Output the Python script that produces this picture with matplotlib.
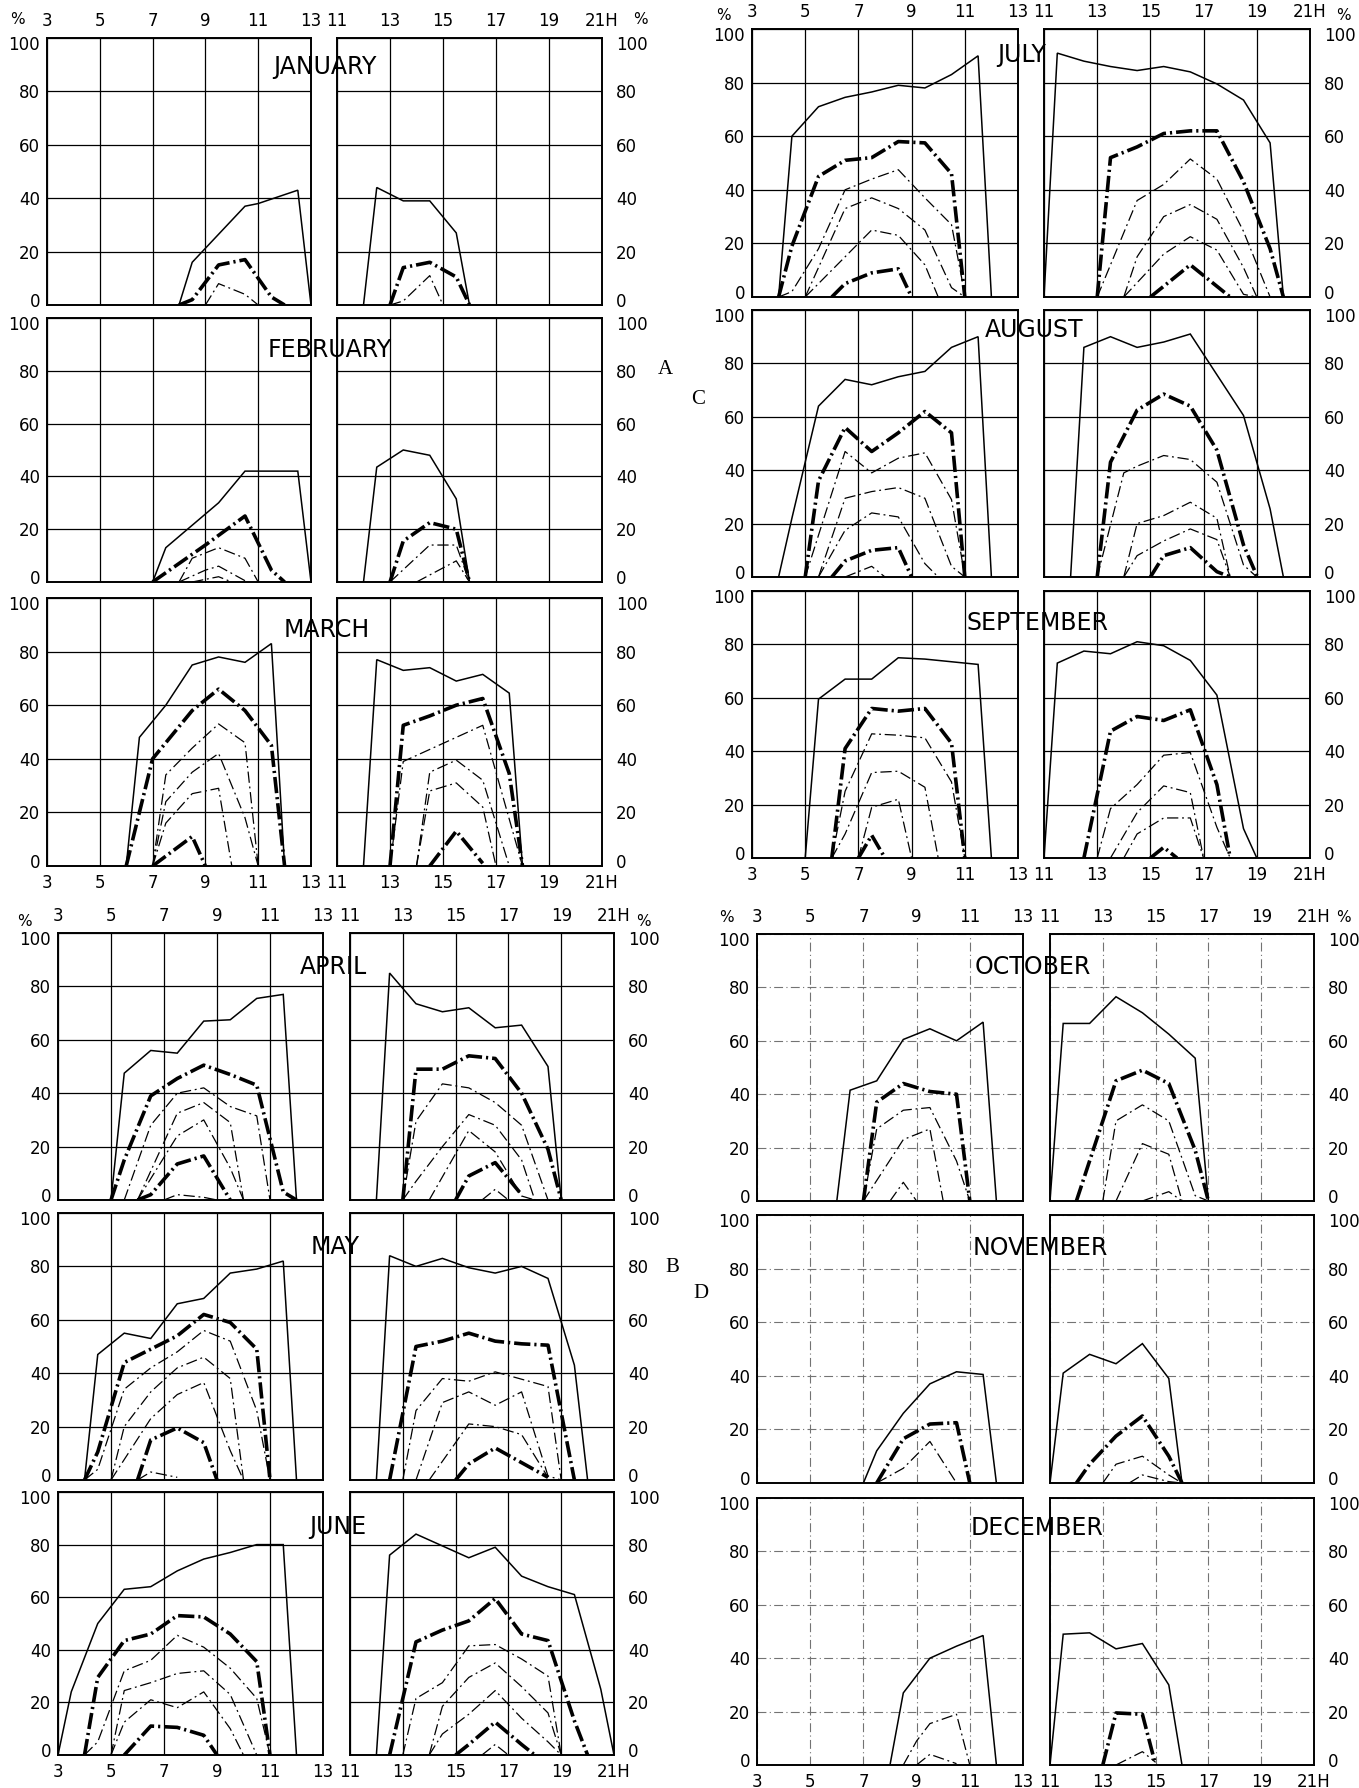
import matplotlib
matplotlib.use("Agg")
import matplotlib.pyplot as plt
import matplotlib.transforms as mtransforms

plt.rcParams['font.family'] = ['DejaVu Sans']

# ---------------- data (hour, percent) ----------------
JAN_AM = {"top": ([8, 8.5, 10.5, 11, 12.5, 13], [0, 16, 37, 38, 43, 0]),
          "heavy": ([8, 8.5, 9.5, 10.5, 11.5, 12], [0, 2, 15, 17, 3, 0]),
          "mid1": ([9, 9.5, 10.5, 11], [0, 8, 4, 0])}
JAN_PM = {"top": ([12, 12.5, 13.5, 14.5, 15.5, 16], [0, 44, 39, 39, 27, 0]),
          "heavy": ([13, 13.5, 14.5, 15.5, 16], [0, 14, 16, 10.5, 0]),
          "mid1": ([13, 13.5, 14.5, 15], [0, 1.5, 11, 0])}
FEB_AM = {"top": ([7, 7.5, 9.5, 10.5, 12.5, 13], [0, 13, 30, 42, 42, 0]),
          "heavy": ([7, 8, 9, 10.5, 11.5, 12], [0, 7, 14, 25, 4.5, 0]),
          "mid1": ([8, 8.5, 9.5, 10.5, 11], [0, 9, 13, 9, 0]),
          "mid2": ([8, 9, 9.5, 10.5], [0, 4.5, 6, 0.5]),
          "mid3": ([8.5, 9.5, 10], [0, 2, 0])}
FEB_PM = {"top": ([12, 12.5, 13.5, 14.5, 15.5, 16], [0, 43.5, 50, 48, 31.5, 0]),
          "heavy": ([13, 13.5, 14.5, 15.5, 16], [0, 15.5, 22.5, 20, 0]),
          "mid1": ([13, 14.5, 15.5, 16], [0, 14, 14, 0]),
          "mid2": ([14, 15.5, 16], [0, 8, 0])}
MAR_AM = {"top": ([6, 6.5, 7.5, 8.5, 9.5, 10.5, 11.5, 12], [0, 48, 60, 75, 78, 76, 83, 0]),
          "heavy": ([6, 7, 8.5, 9.5, 10.5, 11.5, 12], [0, 40, 58, 66, 58, 45, 0]),
          "mid1": ([7, 7.5, 8.5, 9.5, 10.5, 11], [0, 34, 44, 53, 46, 0]),
          "mid2": ([7, 7.5, 8.5, 9.5, 10.5, 11], [0, 24, 35, 42, 18, 0]),
          "mid3": ([7, 7.5, 8.5, 9.5, 10], [0, 16, 27, 29, 0]),
          "low": ([7, 8.5, 9], [0, 11, 0])}
MAR_PM = {"top": ([12, 12.5, 13.5, 14.5, 15.5, 16.5, 17.5, 18], [0, 77, 73, 74, 69, 71.5, 64.5, 0]),
          "heavy": ([13, 13.5, 14.5, 15.5, 16.5, 17.5, 18], [0, 52.5, 56, 60, 62.5, 34.5, 0]),
          "mid1": ([13, 13.5, 16.5, 18], [0, 39, 52.5, 0]),
          "mid2": ([14, 14.5, 15.5, 16.5, 17.5], [0, 35, 39.5, 32, 0]),
          "mid3": ([14, 14.5, 15.5, 16.5, 17], [0, 28, 31, 22, 0]),
          "low": ([14.5, 15.5, 16.5], [0, 13, 1])}
APR_AM = {"top": ([5, 5.5, 6.5, 7.5, 8.5, 9.5, 10.5, 11.5, 12], [0, 47.5, 56, 55, 67, 67.5, 75.5, 77, 0]),
          "heavy": ([5, 5.5, 6.5, 7.5, 8.5, 9.5, 10.5, 11.5, 12], [0, 15, 39, 45.5, 50.5, 47, 43, 3, 0]),
          "mid1": ([5.5, 6.5, 7.5, 8.5, 9.5, 10.5, 11], [0, 28, 40, 42, 35, 31.5, 0]),
          "mid2": ([6, 7.5, 8.5, 9.5, 10], [0, 32.5, 36.5, 29, 0]),
          "mid3": ([6, 7.5, 8.5, 9.5, 10], [0, 24, 30, 12, 0]),
          "low": ([6, 6.5, 7.5, 8.5, 9.5], [0, 2, 13.5, 16.5, 0]),
          "trace": ([7, 7.5, 8.5, 9], [0, 2, 1, 0])}
APR_PM = {"top": ([12, 12.5, 13.5, 14.5, 15.5, 16.5, 17.5, 18.5, 19], [0, 85, 73.5, 70.5, 72, 64.5, 65.5, 50, 0]),
          "heavy": ([13, 13.5, 14.5, 15.5, 16.5, 17.5, 18.5, 19], [0, 49, 49, 54, 53, 40, 19, 0]),
          "mid1": ([13, 13.5, 14.5, 15.5, 16.5, 17.5, 18.5], [0, 29.5, 43.5, 42, 36.5, 28, 0]),
          "mid2": ([13, 13.5, 14.5, 15.5, 16.5, 17.5, 18], [0, 7, 20, 32, 28, 15, 0]),
          "mid3": ([14, 15.5, 16.5, 17.5, 18], [0, 26, 18, 1.5, 0]),
          "low": ([15, 15.5, 16.5, 17.5], [0, 9, 14, 2]),
          "trace": ([16, 16.5, 17], [0, 4, 0])}
MAY_AM = {"top": ([4, 4.5, 5.5, 6.5, 7.5, 8.5, 9.5, 10.5, 11.5, 12], [0, 47, 55, 53, 66, 68, 77.5, 79, 82, 0]),
          "heavy": ([4, 4.5, 5.5, 6.5, 7.5, 8.5, 9.5, 10.5, 11], [0, 10.5, 44, 49, 54, 62, 59, 49, 0]),
          "mid1": ([4, 4.5, 5.5, 6.5, 7.5, 8.5, 9.5, 10.5, 11], [0, 4, 34, 42, 48, 56, 52, 26, 0]),
          "mid2": ([5, 5.5, 6.5, 7.5, 8.5, 9.5, 10], [0, 20, 33, 42, 46, 38, 0]),
          "mid3": ([5, 6.5, 7.5, 8.5, 9.5, 10], [0, 23, 32, 36.5, 11, 0]),
          "low": ([6, 6.5, 7.5, 8.5, 9], [0, 15, 19.5, 14, 0]),
          "trace": ([6, 6.5, 7.5], [0, 3, 1])}
MAY_PM = {"top": ([12, 12.5, 13.5, 14.5, 15.5, 16.5, 17.5, 18.5, 19.5, 20], [0, 84, 80, 83, 79.5, 77.5, 80, 75.5, 43, 0]),
          "heavy": ([12.5, 13.5, 14.5, 15.5, 16.5, 17.5, 18.5, 19.5], [0, 50, 52, 55, 52, 51, 50.5, 0]),
          "mid1": ([13, 13.5, 14.5, 15.5, 16.5, 18.5, 19], [0, 26, 38, 37, 40.5, 35, 0]),
          "mid2": ([13.5, 14.5, 15.5, 16.5, 17.5, 18.5, 19], [0, 29, 33, 28, 33, 1.5, 0]),
          "mid3": ([14, 15.5, 16.5, 17.5, 18.5], [0, 21, 20, 17, 1]),
          "low": ([15, 15.5, 16.5, 18.5], [0, 6, 12, 1])}
JUN_AM = {"top": ([3, 3.5, 4.5, 5.5, 6.5, 7.5, 8.5, 9.5, 10.5, 11.5, 12], [0, 24, 50, 63, 64, 70, 74.5, 77, 80, 80, 0]),
          "heavy": ([4, 4.5, 5.5, 6.5, 7.5, 8.5, 9.5, 10.5, 11], [0, 29.5, 43.5, 46, 53, 52.5, 46, 35.5, 0]),
          "mid1": ([4, 4.5, 5.5, 6.5, 7.5, 8.5, 9.5, 10.5, 11], [0, 5, 32, 36, 45.5, 41, 33, 21.5, 0]),
          "mid2": ([5, 5.5, 6.5, 7.5, 8.5, 9.5, 10.5], [0, 24.5, 27.5, 31, 32, 23, 0]),
          "mid3": ([5, 5.5, 6.5, 7.5, 8.5, 9.5, 10], [0, 12.5, 21, 18, 24, 10, 0]),
          "low": ([5.5, 6.5, 7.5, 8.5, 9], [0, 11, 10.5, 7.5, 0])}
JUN_PM = {"top": ([12, 12.5, 13.5, 14.5, 15.5, 16.5, 17.5, 18.5, 19.5, 20.5, 21], [0, 76, 84, 79.5, 75, 79, 68, 64, 61, 25, 0]),
          "heavy": ([12.5, 13.5, 14.5, 15.5, 16.5, 17.5, 18.5, 19.5, 20], [0, 43, 47.5, 51, 59.5, 46, 43.5, 13, 0]),
          "mid1": ([13, 13.5, 14.5, 15.5, 16.5, 17.5, 18.5, 19], [0, 21.5, 27.5, 41.5, 42, 36.5, 30, 0]),
          "mid2": ([14, 14.5, 15.5, 16.5, 17.5, 18.5, 19], [0, 18.5, 29.5, 35, 26, 16, 0]),
          "mid3": ([14, 14.5, 15.5, 16.5, 17.5, 18.5, 19], [0, 8, 15.5, 24.5, 14, 5, 0]),
          "low": ([15, 15.5, 16.5, 17.5, 18], [0, 4, 12.5, 4, 0]),
          "trace": ([16, 16.5, 17], [0, 4, 0])}
JUL_AM = {"top": ([4, 4.5, 5.5, 6.5, 7.5, 8.5, 9.5, 10.5, 11.5, 12], [0, 60, 71, 74.5, 76.5, 79, 78, 83, 90, 0]),
          "heavy": ([4, 4.5, 5.5, 6.5, 7.5, 8.5, 9.5, 10.5, 11], [0, 19, 45, 51, 52, 58, 57.5, 46, 0]),
          "mid1": ([4, 4.5, 5.5, 6.5, 7.5, 8.5, 9.5, 10.5, 11], [0, 2, 18, 40, 44, 47.5, 37, 27, 1]),
          "mid2": ([5, 6.5, 7.5, 8.5, 9.5, 10.5, 11], [0, 33, 37, 33, 25, 3.5, 0]),
          "mid3": ([5, 5.5, 6.5, 7.5, 8.5, 9.5, 10], [0, 5, 15, 25, 23, 12, 0]),
          "low": ([6, 6.5, 7.5, 8.5, 9], [0, 5, 9, 10.5, 0])}
JUL_PM = {"top": ([11, 11.5, 12.5, 13.5, 14.5, 15.5, 16.5, 17.5, 18.5, 19.5, 20], [0, 91, 88, 86, 84.5, 86, 84, 79.5, 73.5, 57.5, 0]),
          "heavy": ([13, 13.5, 14.5, 15.5, 16.5, 17.5, 18.5, 19.5, 20], [0, 52, 56, 61, 62, 62, 43, 18, 0]),
          "mid1": ([13, 14.5, 15.5, 16.5, 17.5, 18.5, 19.5], [0, 36, 42, 51.5, 44, 24.5, 0]),
          "mid2": ([14, 14.5, 15.5, 16.5, 17.5, 18.5, 19], [0, 15, 30, 34.5, 29, 11, 0]),
          "mid3": ([14, 15.5, 16.5, 17.5, 18.5, 19], [0, 16, 22.5, 17.5, 1, 0]),
          "low": ([15, 15.5, 16.5, 17.5, 18], [0, 4, 12, 4, 0])}
AUG_AM = {"top": ([4, 4.5, 5.5, 6.5, 7.5, 8.5, 9.5, 10.5, 11.5, 12], [0, 22, 64, 74, 72, 75, 77, 86, 90, 0]),
          "heavy": ([5, 5.5, 6.5, 7.5, 8.5, 9.5, 10.5, 11], [0, 36, 56, 47, 54, 62, 54, 0]),
          "mid1": ([5, 6.5, 7.5, 8.5, 9.5, 10.5, 11], [0, 47, 39, 44.5, 46.5, 29, 0.5]),
          "mid2": ([5.5, 6.5, 7.5, 8.5, 9.5, 10.5, 11], [0, 29.5, 32, 33.5, 29.5, 4, 0]),
          "mid3": ([5.5, 6.5, 7.5, 8.5, 9.5, 10], [0, 17.5, 24, 22.5, 5, 0]),
          "low": ([6, 6.5, 7.5, 8.5, 9], [0, 6, 10, 11, 0]),
          "trace": ([6.5, 7.5, 8], [0, 4, 0])}
AUG_PM = {"top": ([12, 12.5, 13.5, 14.5, 15.5, 16.5, 18.5, 19.5, 20], [0, 86, 90, 86, 88, 91, 60.5, 25.5, 0]),
          "heavy": ([13, 13.5, 14.5, 15.5, 16.5, 17.5, 18.5, 19], [0, 43, 62.5, 68.5, 64, 47.5, 12, 0.5]),
          "mid1": ([13, 14, 14.5, 15.5, 16.5, 17.5, 18.5, 19], [0, 39, 41.5, 45.5, 44, 35.5, 4.5, 0]),
          "mid2": ([14, 14.5, 15.5, 16.5, 17.5, 18], [0, 20, 23, 28, 22, 0]),
          "mid3": ([14, 14.5, 15.5, 16.5, 17.5, 18], [0, 8, 13.5, 18, 14, 0]),
          "low": ([15, 15.5, 16.5, 17.5, 18], [0, 8, 11, 2, 0])}
SEP_AM = {"top": ([5, 5.5, 6.5, 7.5, 8.5, 9.5, 10.5, 11.5, 12], [0, 59.5, 67, 67, 75, 74.5, 73.5, 72.5, 0]),
          "heavy": ([6, 6.5, 7.5, 8.5, 9.5, 10.5, 11], [0, 41, 56, 55, 56, 43, 0]),
          "mid1": ([6, 6.5, 7.5, 8.5, 9.5, 10.5, 11], [0, 25, 46.5, 46, 45, 28.5, 0]),
          "mid2": ([6, 6.5, 7.5, 8.5, 9.5, 10], [0, 9, 32, 32.5, 26.5, 0]),
          "mid3": ([7, 7.5, 8.5, 9], [0, 19, 22, 0]),
          "low": ([7, 7.5, 8], [0, 8.5, 0])}
SEP_PM = {"top": ([11, 11.5, 12.5, 13.5, 14.5, 15.5, 16.5, 17.5, 18.5, 19], [0, 73, 77.5, 76.5, 81, 79.5, 74, 61, 11, 0]),
          "heavy": ([12.5, 13.5, 14.5, 15.5, 16.5, 17.5, 18], [0, 47.5, 53, 51.5, 55.5, 27.5, 0]),
          "mid1": ([13, 13.5, 14.5, 15.5, 16.5, 17.5, 18], [0, 18.5, 27.5, 38.5, 39.5, 11.5, 0]),
          "mid2": ([13.5, 14.5, 15.5, 16.5, 17], [0, 17, 27, 24.5, 0]),
          "mid3": ([14, 14.5, 15.5, 16.5, 17], [0, 9, 15, 15, 0]),
          "low": ([15, 15.5, 16], [0, 4, 0])}
OCT_AM = {"top": ([6, 6.5, 7.5, 8.5, 9.5, 10.5, 11.5, 12], [0, 41.5, 45, 60.5, 64.5, 60, 67, 0]),
          "heavy": ([7, 7.5, 8.5, 9.5, 10.5, 11], [0, 37, 44, 41, 40, 0]),
          "mid1": ([7, 7.5, 8.5, 9.5, 10.5, 11], [0, 27, 34, 35, 15, 0]),
          "mid2": ([7, 8.5, 9.5, 10], [0, 23, 27, 0]),
          "mid3": ([8, 8.5, 9], [0, 7, 0])}
OCT_PM = {"top": ([11, 11.5, 12.5, 13.5, 14.5, 15.5, 16.5, 17], [0, 66.5, 66.5, 76.5, 70.5, 62.5, 53.5, 0]),
          "heavy": ([12, 13.5, 14.5, 15.5, 16.5, 17], [0, 45, 49, 44, 19, 0]),
          "mid1": ([13, 13.5, 14.5, 15.5, 16.5, 17], [0, 30, 36, 30, 2, 0]),
          "mid2": ([13.5, 14.5, 15.5, 16], [0, 21.5, 17.5, 0]),
          "mid3": ([14.5, 15.5, 16], [0, 3.5, 0])}
NOV_AM = {"top": ([7, 7.5, 8.5, 9.5, 10.5, 11.5, 12], [0, 12, 26, 37, 41.5, 40.5, 0]),
          "heavy": ([7.5, 8.5, 9.5, 10.5, 11], [0, 16.5, 22, 22.5, 0]),
          "mid1": ([7.5, 8.5, 9.5, 10.5], [0, 5.5, 15.5, 0])}
NOV_PM = {"top": ([11, 11.5, 12.5, 13.5, 14.5, 15.5, 16], [0, 41, 48, 44.5, 52, 39, 0]),
          "heavy": ([12, 12.5, 13.5, 14.5, 15.5, 16], [0, 7, 17.5, 25, 10, 0]),
          "mid1": ([13, 13.5, 14.5, 15.5, 16], [0, 7, 10, 3, 0]),
          "mid2": ([14, 14.5, 15.5, 16], [0, 3, 0.5, 0])}
DEC_AM = {"top": ([8, 8.5, 9.5, 10.5, 11.5, 12], [0, 27, 40, 44.5, 48.5, 0]),
          "mid1": ([8.5, 9, 9.5, 10.5, 11], [0, 9, 15.5, 19, 0]),
          "mid2": ([9, 9.5, 10.5], [0, 4, 0.5])}
DEC_PM = {"top": ([11, 11.5, 12.5, 13.5, 14.5, 15.5, 16], [0, 49, 49.5, 43.5, 45.5, 30, 0]),
          "heavy": ([13, 13.5, 14.5, 15], [0, 19.5, 19, 0]),
          "mid1": ([13.5, 14.5, 15], [0, 5, 1])}

MONTHS = ["JANUARY", "FEBRUARY", "MARCH", "APRIL", "MAY", "JUNE",
          "JULY", "AUGUST", "SEPTEMBER", "OCTOBER", "NOVEMBER", "DECEMBER"]
AM_DATA = [JAN_AM, FEB_AM, MAR_AM, APR_AM, MAY_AM, JUN_AM,
           JUL_AM, AUG_AM, SEP_AM, OCT_AM, NOV_AM, DEC_AM]
PM_DATA = [JAN_PM, FEB_PM, MAR_PM, APR_PM, MAY_PM, JUN_PM,
           JUL_PM, AUG_PM, SEP_PM, OCT_PM, NOV_PM, DEC_PM]
AM_TICKS = [3, 5, 7, 9, 11, 13]
AM_LABELS = ["3", "5", "7", "9", "11", "13"]
PM_TICKS = [11, 13, 15, 17, 19, 21]
PM_LABELS = ["11", "13", "15", "17", "19", "21H"]
Y_TICKS = [0, 20, 40, 60, 80, 100]
Y_LABELS = ["0", "20", "40", "60", "80", "100"]
BLOCK_LETTERS = ["A", "B", "C", "D"]

# ---------------- styles / layout ----------------
W, H = 1359, 1788
fig = plt.figure(figsize=(W / 100, H / 100), dpi=100)
fig.patch.set_facecolor("white")

def rect(x0, y0, x1, y1):
    return [x0 / W, 1 - y1 / H, (x1 - x0) / W, (y1 - y0) / H]

THIN_DD = (0, (9, 3, 1.5, 3))
HEAVY_DD = (0, (4.5, 1.1, 0.6, 1.1))
STYLE = {"top": dict(lw=1.1, ls="-"),
         "heavy": dict(lw=2.6, ls=HEAVY_DD),
         "mid1": dict(lw=0.9, ls=THIN_DD),
         "mid2": dict(lw=0.9, ls=THIN_DD),
         "mid3": dict(lw=0.9, ls=THIN_DD),
         "low": dict(lw=2.6, ls=HEAVY_DD),
         "trace": dict(lw=0.9, ls=THIN_DD)}

BLOCKS = [
    ((47, 311), (337, 602), [(38, 305), (318, 582), (598, 866)]),
    ((58, 323), (350, 614), [(933, 1200), (1213, 1480), (1492, 1755)]),
    ((752, 1018), (1044, 1310), [(29, 297), (310, 577), (591, 858)]),
    ((757, 1023), (1050, 1314), [(934, 1201), (1215, 1483), (1498, 1765)]),
]
TITLE_POS = [(325, 67), (330, 350), (327, 630), (333, 967), (335, 1247), (338, 1527),
             (1022, 55), (1034, 330), (1037, 623), (1033, 967), (1040, 1248), (1037, 1528)]
LETTER_POS = [(665, 370), (672, 1268), (698, 399), (701, 1294)]
PCT_POS = [((17, 20), (640, 20)), ((24, 922), (643, 922)),
           ((723, 15), (1343, 15)), ((726, 918), (1343, 918))]

FS = 12
UP = mtransforms.ScaledTranslation(0, 5 / 100, fig.dpi_scale_trans)
DOWN = mtransforms.ScaledTranslation(0, -5 / 100, fig.dpi_scale_trans)

def style_axes(ax, side, row, block):
    am = side == "am"
    ax.set_xlim(3, 13) if am else ax.set_xlim(11, 21)
    ax.set_ylim(0, 100)
    ax.set_xticks(AM_TICKS if am else PM_TICKS)
    ax.set_xticklabels(AM_LABELS if am else PM_LABELS)
    ax.set_yticks(Y_TICKS)
    ax.set_yticklabels(Y_LABELS)
    if block == 3:
        ax.grid(True, color="0.45", lw=0.8, ls=(0, (8, 3, 1, 3)))
    else:
        ax.grid(True, color="black", lw=0.9, ls="-")
    ax.set_axisbelow(True)
    for s in ax.spines.values():
        s.set_linewidth(1.4)
    ax.tick_params(length=0, labelsize=FS)
    if am:
        ax.tick_params(axis="y", left=False, labelleft=True, right=False, labelright=False, pad=5)
    else:
        ax.tick_params(axis="y", left=False, labelleft=False, right=False, labelright=True, pad=10)
    if row == 0:
        ax.tick_params(axis="x", labeltop=True, labelbottom=False, pad=6)
    elif row == 2:
        ax.tick_params(axis="x", labeltop=False, labelbottom=True, pad=6)
    else:
        ax.tick_params(axis="x", labeltop=False, labelbottom=False)
    for tick in ax.yaxis.get_major_ticks():
        for lbl in (tick.label1, tick.label2):
            if lbl.get_text() == "0":
                lbl.set_transform(lbl.get_transform() + UP)
            elif lbl.get_text() == "100":
                lbl.set_transform(lbl.get_transform() + DOWN)

for b, (lx, rx, rows) in enumerate(BLOCKS):
    for r, (y0, y1) in enumerate(rows):
        m = b * 3 + r
        for side, (x0, x1), data in (("am", lx, AM_DATA[m]), ("pm", rx, PM_DATA[m])):
            ax = fig.add_axes(rect(x0, y0, x1, y1))
            style_axes(ax, side, r, b)
            for key, (xs, ys) in data.items():
                ax.plot(xs, ys, color="black", solid_joinstyle="miter",
                        dash_capstyle="butt", **STYLE[key])
        tx, ty = TITLE_POS[m]
        fig.text(tx / W, 1 - ty / H, MONTHS[m], ha="center", va="center",
                 fontsize=17, zorder=10)
    lxp, lyp = LETTER_POS[b]
    fig.text(lxp / W, 1 - lyp / H, BLOCK_LETTERS[b], ha="center", va="center",
             fontsize=15, family=["Liberation Serif", "DejaVu Serif"])
    for (px, py) in PCT_POS[b]:
        fig.text(px / W, 1 - py / H, "%", ha="center", va="center", fontsize=11)

fig.savefig("out.png", dpi=100, facecolor="white")
